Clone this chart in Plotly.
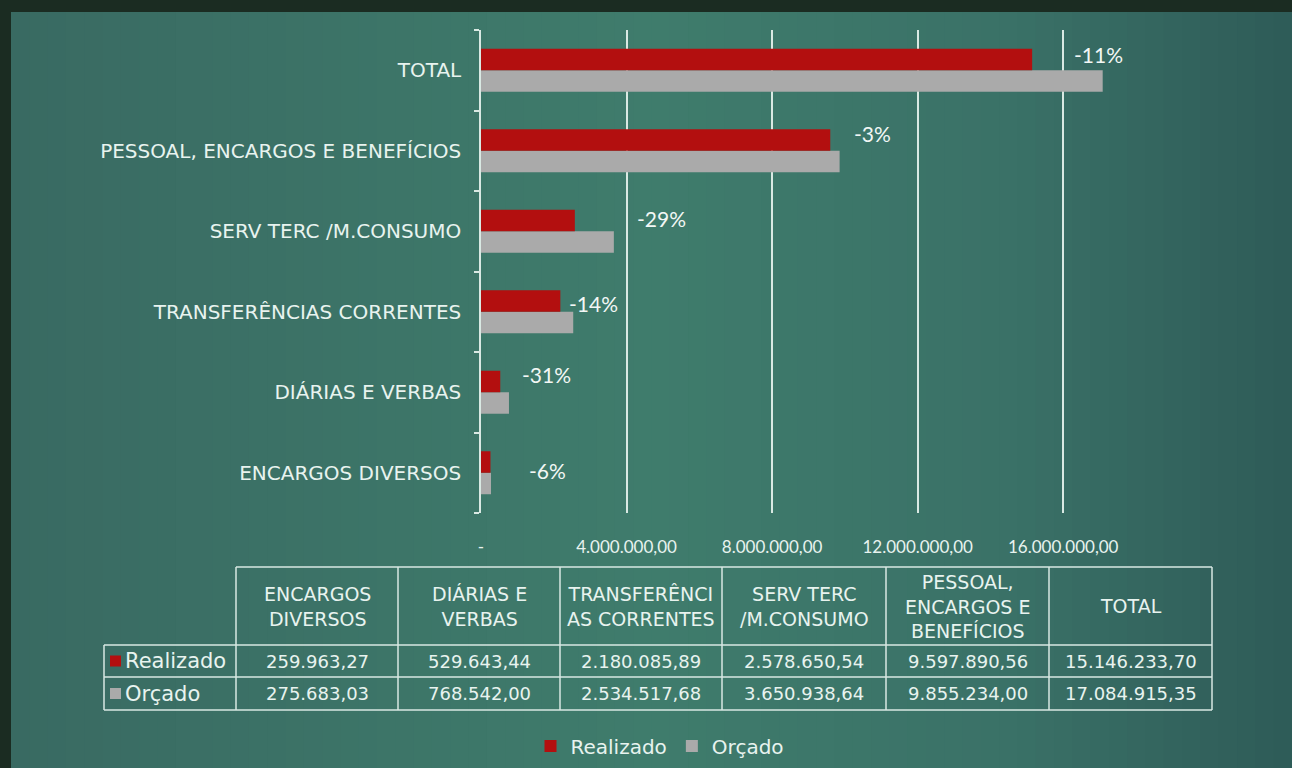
import plotly.graph_objects as go

# ---------------- data ----------------
categories = ["ENCARGOS DIVERSOS", "DIÁRIAS E VERBAS", "TRANSFERÊNCIAS CORRENTES",
              "SERV TERC /M.CONSUMO", "PESSOAL, ENCARGOS E BENEFÍCIOS", "TOTAL"]
header_labels = ["ENCARGOS<br>DIVERSOS", "DIÁRIAS E<br>VERBAS", "TRANSFERÊNCI<br>AS CORRENTES",
                 "SERV TERC<br>/M.CONSUMO", "PESSOAL,<br>ENCARGOS E<br>BENEFÍCIOS", "TOTAL"]
realizado = [259963.27, 529643.44, 2180085.89, 2578650.54, 9597890.56, 15146233.70]
orcado = [275683.03, 768542.00, 2534517.68, 3650938.64, 9855234.00, 17084915.35]
pct_labels = ["-6%", "-31%", "-14%", "-29%", "-3%", "-11%"]
tick_values = [0, 4000000, 8000000, 12000000, 16000000]
series_names = ["Realizado", "Orçado"]

# ---------------- style ----------------
RED = "#b30f0f"
GRAY = "#aaaaaa"
TXT = "#e8f3ef"
LINE = "#d9e9e3"
FRAME = "#1b2c22"
W, H = 1292, 768
PL, PR, PT, PB = 481, 1136, 30, 513  # plot area in px
FONT_G = "DejaVu Sans, sans-serif"

label_xshift = [36, 11, -6, 21, 12, -31]
label_yshift = [2, 18, 8, 13, 17, 16]


def br(v):
    s = f"{v:,.2f}"
    return s.replace(",", "X").replace(".", ",").replace("X", ".")


def px2x(px):
    return (px - PL) / (PR - PL)


def py2y(py):
    return (PB - py) / (PB - PT)


def lerp_color(stops, t):
    for i in range(len(stops) - 1):
        t0, c0 = stops[i]
        t1, c1 = stops[i + 1]
        if t0 <= t <= t1:
            f = (t - t0) / (t1 - t0) if t1 > t0 else 0
            a = [int(c0[j:j + 2], 16) for j in (1, 3, 5)]
            b = [int(c1[j:j + 2], 16) for j in (1, 3, 5)]
            c = [round(a[k] + (b[k] - a[k]) * f) for k in range(3)]
            return "#%02x%02x%02x" % tuple(c)
    return stops[-1][1]


fig = go.Figure()
fig.add_trace(go.Bar(y=categories, x=orcado, orientation="h", name=series_names[1],
                     marker=dict(color=GRAY, line=dict(width=0)), legendrank=2,
                     hoverinfo="skip"))
fig.add_trace(go.Bar(y=categories, x=realizado, orientation="h", name=series_names[0],
                     marker=dict(color=RED, line=dict(width=0)), legendrank=1,
                     hoverinfo="skip"))

shapes = []
# background gradient
stops = [(0, "#396a62"), (0.25, "#3c7367"), (0.5, "#3f7c6c"), (0.78, "#3a7167"), (1.0, "#2e5b57")]
n = 70
x0p, x1p = 11, W
for i in range(n):
    a = x0p + (x1p - x0p) * i / n
    b = x0p + (x1p - x0p) * (i + 1) / n + 1
    if i == n - 1:
        b = W + 60
    col = lerp_color(stops, (i + 0.5) / n)
    shapes.append(dict(type="rect", xref="paper", yref="paper", x0=px2x(a), x1=px2x(b),
                       y0=py2y(H + 60), y1=py2y(12), fillcolor=col, line=dict(width=0),
                       layer="below"))
# dark frame (top and left)
shapes.append(dict(type="rect", xref="paper", yref="paper", x0=px2x(-20), x1=px2x(W + 60),
                   y0=py2y(12), y1=py2y(-20), fillcolor=FRAME, line=dict(width=0), layer="below"))
shapes.append(dict(type="rect", xref="paper", yref="paper", x0=px2x(-20), x1=px2x(11),
                   y0=py2y(H + 60), y1=py2y(-20), fillcolor=FRAME, line=dict(width=0), layer="below"))

# table lines
col_x = [104, 236, 398, 560, 722, 886, 1049, 1212]
row_y = [567, 645, 677, 710]


def hline(xa, xb, y):
    shapes.append(dict(type="line", xref="paper", yref="paper", x0=px2x(xa), x1=px2x(xb),
                       y0=py2y(y), y1=py2y(y), line=dict(color=LINE, width=1.5)))


def vline(x, ya, yb):
    shapes.append(dict(type="line", xref="paper", yref="paper", x0=px2x(x), x1=px2x(x),
                       y0=py2y(ya), y1=py2y(yb), line=dict(color=LINE, width=1.5)))


hline(col_x[1], col_x[-1], row_y[0])
for y in row_y[1:]:
    hline(col_x[0], col_x[-1], y)
vline(col_x[0], row_y[1], row_y[3])
for x in col_x[1:]:
    vline(x, row_y[0], row_y[3])

# legend keys in table
for r, colr in enumerate([RED, GRAY]):
    yc = (row_y[r + 1] + row_y[r + 2]) / 2
    shapes.append(dict(type="rect", xref="paper", yref="paper", x0=px2x(110), x1=px2x(121),
                       y0=py2y(yc + 5.5), y1=py2y(yc - 5.5), fillcolor=colr,
                       line=dict(width=0)))

annotations = []
# header
for i, h in enumerate(header_labels):
    xc = (col_x[i + 1] + col_x[i + 2]) / 2
    annotations.append(dict(xref="paper", yref="paper", x=px2x(xc), y=py2y((row_y[0] + row_y[1]) / 2),
                            text=h, showarrow=False,
                            font=dict(family=FONT_G, size=19, color=TXT),
                            xanchor="center", yanchor="middle"))
# rows
for r, vals in enumerate([realizado, orcado]):
    yc = (row_y[r + 1] + row_y[r + 2]) / 2
    annotations.append(dict(xref="paper", yref="paper", x=px2x(123), y=py2y(yc),
                            text=series_names[r], showarrow=False,
                            font=dict(family=FONT_G, size=21, color=TXT),
                            xanchor="left", yanchor="middle"))
    for i, v in enumerate(vals):
        xc = (col_x[i + 1] + col_x[i + 2]) / 2
        annotations.append(dict(xref="paper", yref="paper", x=px2x(xc), y=py2y(yc),
                                text=br(v), showarrow=False,
                                font=dict(family=FONT_G, size=18, color=TXT),
                                xanchor="center", yanchor="middle"))

# percentage labels
for i, c in enumerate(categories):
    annotations.append(dict(xref="x", yref="y", x=orcado[i], y=c, text=pct_labels[i],
                            showarrow=False, xanchor="left", yanchor="middle",
                            xshift=label_xshift[i], yshift=label_yshift[i],
                            font=dict(family="Lato, sans-serif", size=21, color="#f2f7f5")))

tick_text = ["-" if v == 0 else br(v) for v in tick_values]

fig.update_layout(
    width=W, height=H, autosize=False,
    margin=dict(l=PL, r=W - PR, t=PT, b=H - PB, pad=0),
    paper_bgcolor="#3b7067",
    plot_bgcolor="rgba(0,0,0,0)",
    barmode="group", bargap=0.466, bargroupgap=0,
    shapes=shapes, annotations=annotations,
    showlegend=True,
    legend=dict(orientation="h", xref="container", yref="container",
                x=660 / W, y=1 - 746 / H, xanchor="center", yanchor="middle",
                font=dict(family=FONT_G, size=20, color=TXT), itemwidth=30,
                bgcolor="rgba(0,0,0,0)", itemclick=False, traceorder="normal"),
    xaxis=dict(range=[0, 18000000], tickvals=tick_values, ticktext=tick_text,
               showgrid=True, gridcolor=LINE, gridwidth=1.5, zeroline=False,
               showline=False, ticks="", ticklabelstandoff=22, automargin=False,
               tickfont=dict(family="Lato, sans-serif", size=17, color=TXT), fixedrange=True),
    yaxis=dict(showline=True, linecolor=LINE, linewidth=1.5, ticks="outside",
               tickson="boundaries", ticklen=5, tickcolor=LINE, tickwidth=1.5,
               ticklabelstandoff=14, showgrid=False, automargin=False,
               tickfont=dict(family=FONT_G, size=20, color=TXT),
               fixedrange=True),
)

fig.write_html("out.html", config={"displayModeBar": False, "responsive": False},
               post_script="document.body.style.margin='0px';document.body.style.overflow='hidden';"
                           "document.documentElement.style.overflow='hidden';")
